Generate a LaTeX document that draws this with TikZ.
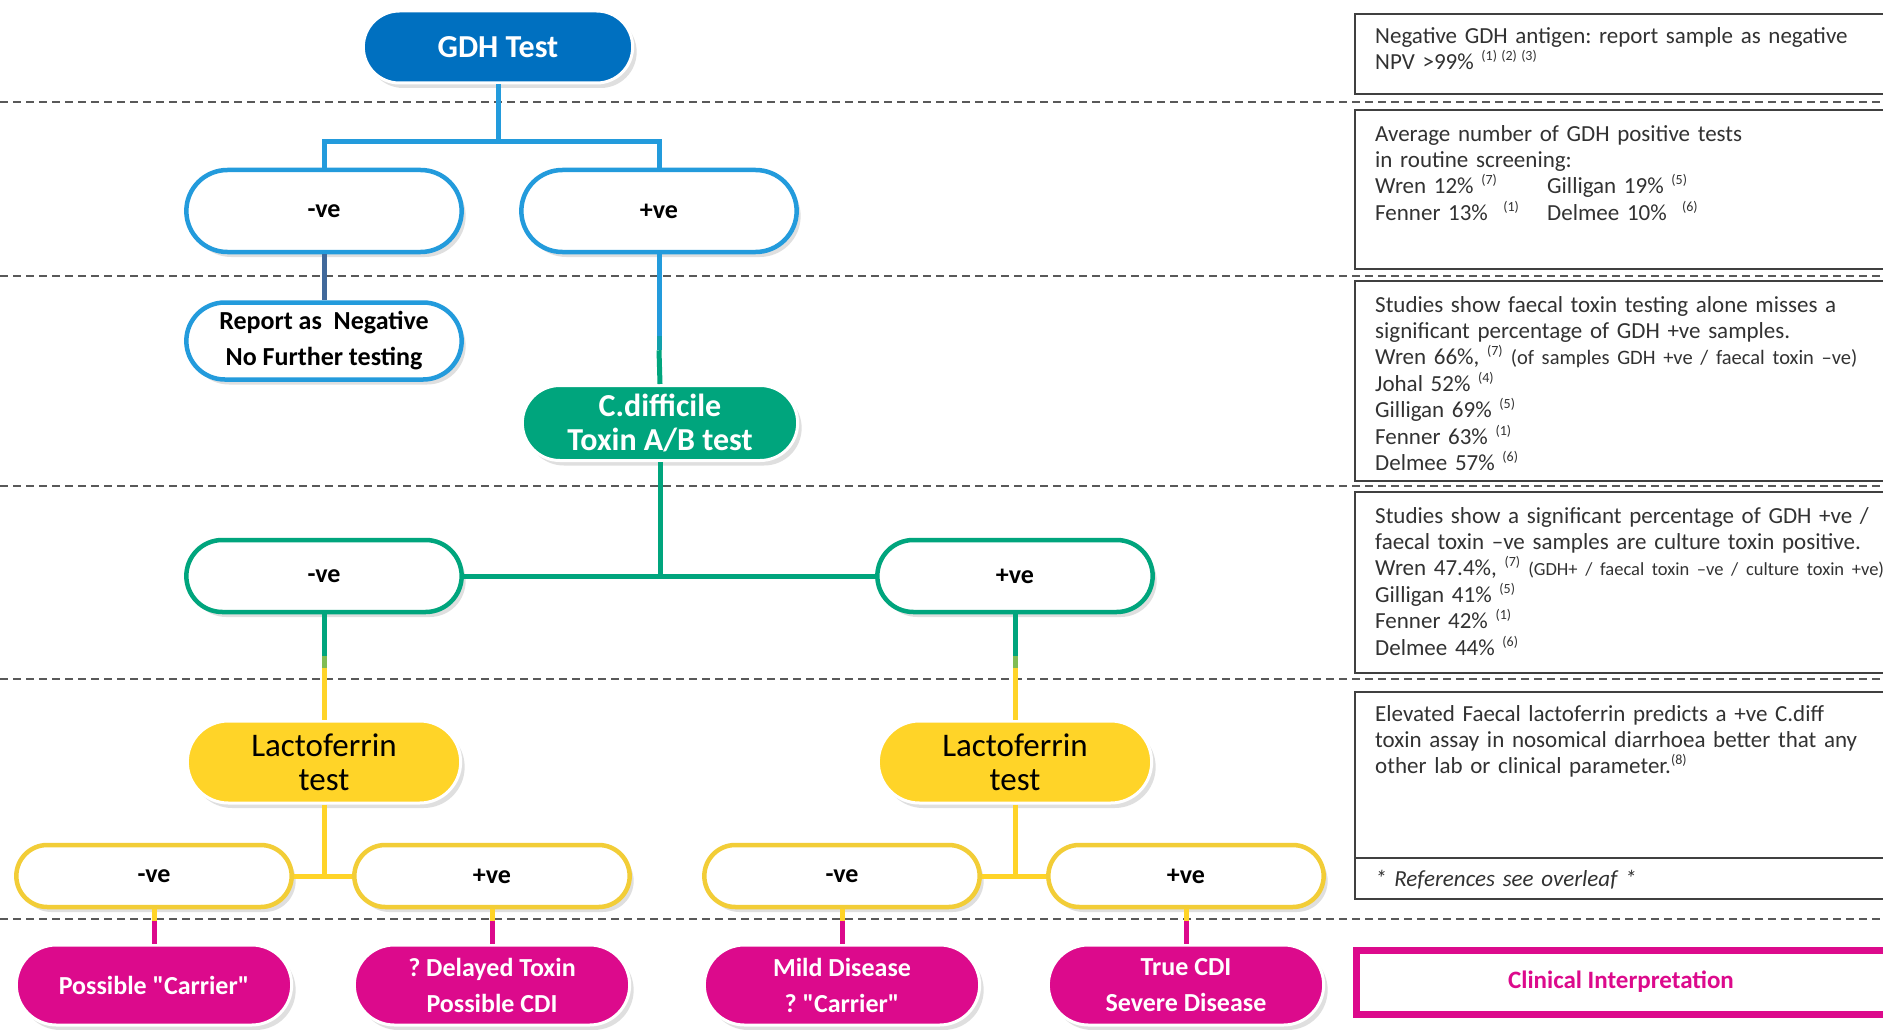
\documentclass[tikz,border=0pt]{standalone}
\usepackage{fontspec}
\setmainfont{Carlito}
\usepackage{tikz}
\usetikzlibrary{shapes.misc,shadows,positioning,calc}

\definecolor{gdhblue}{RGB}{0,112,192}
\definecolor{rimblue}{RGB}{35,155,220}
\definecolor{slate}{RGB}{65,105,155}
\definecolor{toxgreen}{RGB}{0,165,125}
\definecolor{lactoyellow}{RGB}{255,212,40}
\definecolor{rimyellow}{RGB}{242,205,55}
\definecolor{cdipink}{RGB}{220,10,140}
\definecolor{infogrey}{RGB}{50,50,50}

\newcommand{\refsup}[1]{\textsuperscript{\fontsize{14}{14}\selectfont(#1)}}
\frenchspacing

\begin{document}
\begin{tikzpicture}[
    x=1pt, y=-1pt,
    pill/.style={rounded rectangle, align=center, minimum width=282pt,
        drop shadow={shadow xshift=4pt, shadow yshift=-5pt, opacity=0.25}},
    fillpill/.style={pill, draw=white, line width=3pt, text=white, font=\fontsize{26}{36}\selectfont\bfseries},
    ring/.style={pill, fill=white, line width=4.5pt, font=\fontsize{26}{36}\selectfont\bfseries},
    link/.style={line width=5pt},
    sepline/.style={dash pattern=on 8pt off 5pt, line width=1.5pt, black!65},
    info/.style={anchor=north west, inner sep=0pt, text width=600pt, align=left,
        text=infogrey, font=\fontsize{23}{26.4}\selectfont},
    infobox/.style={draw=black!75, line width=2pt, fill=white}
]
\useasboundingbox (0,0) rectangle (1883,1030);
\clip (0,0) rectangle (1883,1030);
\fill[white] (0,0) rectangle (1883,1030);

% row separators
\foreach \y in {102,276,486,679,919}
    \draw[sepline] (0,\y) -- (1883,\y);

% notes on the right
\draw[infobox] (1355,14) rectangle (1900,94);
\node[info] (note1) at (1375,27) {Negative GDH antigen: report sample as negative\\
    NPV >99\% \refsup{1}\,\refsup{2}\,\refsup{3}};
\draw[infobox] (1355,110) rectangle (1900,269);
\node[info] (note2) at (1375,125) {Average number of GDH positive tests\\
    in routine screening:\\
    \makebox[172pt][l]{Wren 12\% \refsup{7}}Gilligan 19\% \refsup{5}\\
    \makebox[172pt][l]{Fenner 13\% \ \refsup{1}}Delmee 10\% \ \refsup{6}};
\draw[infobox] (1355,281) rectangle (1900,481);
\node[info] (note3) at (1375,296) {Studies show faecal toxin testing alone misses a\\
    significant percentage of GDH +ve samples.\\
    Wren 66\%, \refsup{7} {\fontsize{20.5}{26}\selectfont(of samples GDH +ve / faecal toxin –ve)}\\
    Johal 52\% \refsup{4}\\
    Gilligan 69\% \refsup{5}\\
    Fenner 63\% \refsup{1}\\
    Delmee 57\% \refsup{6}};
\draw[infobox] (1355,492) rectangle (1900,673);
\node[info] (note4) at (1375,507) {Studies show a significant percentage of GDH +ve /\\
    faecal toxin –ve samples are culture toxin positive.\\
    Wren 47.4\%, \refsup{7} {\fontsize{18.5}{26}\selectfont(GDH+ / faecal toxin –ve / culture toxin +ve)}\\
    Gilligan 41\% \refsup{5}\\
    Fenner 42\% \refsup{1}\\
    Delmee 44\% \refsup{6}};
\draw[infobox] (1355,692) rectangle (1900,899);
\draw[black!75, line width=2pt] (1355,858) -- (1900,858);
\node[info] (note5) at (1375,705) {Elevated Faecal lactoferrin predicts a +ve C.diff\\
    toxin assay in nosomical diarrhoea better that any\\
    other lab or clinical parameter.\refsup{8}};
\node[info] (overleaf) at (1375,870) {\itshape * References see overleaf *};
\node[draw=cdipink, line width=7pt, fill=white, minimum width=530pt, minimum height=64pt,
    text=cdipink, font=\fontsize{25}{30}\selectfont\bfseries] (clinical) at (1621,982) {Clinical Interpretation};

% GDH level
\node[fillpill, fill=gdhblue, minimum width=276pt, minimum height=72pt,
    font=\fontsize{32}{36}\selectfont\bfseries] (gdh) at (498,47) {GDH Test};
\node[ring, draw=rimblue, minimum height=82pt] (gdhneg) at (324,211) {-ve};
\node[ring, draw=rimblue, minimum height=82pt] (gdhpos) at (659,211) {+ve};
\node[ring, draw=rimblue, minimum height=77pt] (report) at (324,341) {Report as\ \ Negative\\No Further testing};

% toxin level
\node[fillpill, fill=toxgreen, minimum width=282pt, minimum height=75pt,
    font=\fontsize{32}{34}\selectfont\bfseries] (toxin) at (660,423) {C.difficile\\Toxin A/B test};
\node[ring, draw=toxgreen, minimum height=72pt] (toxneg) at (324,576) {-ve};
\node[ring, draw=toxgreen, minimum height=72pt] (toxpos) at (1015,576) {+ve};

% lactoferrin level
\node[fillpill, fill=lactoyellow, text=black, minimum width=280pt, minimum height=82pt,
    font=\fontsize{33}{34}\selectfont] (lactoneg) at (324,762) {Lactoferrin\\test};
\node[fillpill, fill=lactoyellow, text=black, minimum width=280pt, minimum height=82pt,
    font=\fontsize{33}{34}\selectfont] (lactopos) at (1015,762) {Lactoferrin\\test};
\node[ring, draw=rimyellow, minimum height=62pt] (lnegneg) at (154,876) {-ve};
\node[ring, draw=rimyellow, minimum height=62pt] (lnegpos) at (492,876) {+ve};
\node[ring, draw=rimyellow, minimum height=62pt] (lposneg) at (842,876) {-ve};
\node[ring, draw=rimyellow, minimum height=62pt] (lpospos) at (1186,876) {+ve};

% interpretation
\node[fillpill, fill=cdipink, minimum height=80pt] (carrier) at (154,985) {Possible \textquotedbl Carrier\textquotedbl};
\node[fillpill, fill=cdipink, minimum height=80pt] (delayed) at (492,985) {? Delayed Toxin\\Possible CDI};
\node[fillpill, fill=cdipink, minimum height=80pt] (mild) at (842,985) {Mild Disease\\? \textquotedbl Carrier\textquotedbl};
\node[fillpill, fill=cdipink, minimum height=80pt] (truecdi) at (1186,985) {True CDI\\Severe Disease};

% connectors
\coordinate (gdhsplit) at (498,142);
\draw[link, rimblue] (gdh.south) -- (gdhsplit);
\draw[link, rimblue] (gdhneg.north) |- (gdhsplit) -| (gdhpos.north);
\draw[link, slate] (gdhneg.south) -- (report.north);
\draw[link, rimblue] (gdhpos.south) -- ++(0,82) coordinate (bg1);
\draw[link, rimblue!50!toxgreen] (bg1) -- ++(0,14) coordinate (bg2);
\draw[link, toxgreen] (bg2) -- (toxin.north);

\draw[link, toxgreen] (toxin.south) -- (toxin.south |- toxneg.east);
\draw[link, toxgreen] (toxneg.east) -- (toxpos.west);
\draw[link, toxgreen] (toxneg.south) -- ++(0,42) coordinate (gy1);
\draw[link, toxgreen!50!lactoyellow] (gy1) -- ++(0,12) coordinate (gy2);
\draw[link, lactoyellow] (gy2) -- (lactoneg.north);
\draw[link, toxgreen] (toxpos.south) -- ++(0,42) coordinate (gy3);
\draw[link, toxgreen!50!lactoyellow] (gy3) -- ++(0,12) coordinate (gy4);
\draw[link, lactoyellow] (gy4) -- (lactopos.north);

\draw[link, lactoyellow] (lactoneg.south) -- (lactoneg.south |- lnegneg.east);
\draw[link, lactoyellow] (lnegneg.east) -- (lnegpos.west);
\draw[link, lactoyellow] (lactopos.south) -- (lactopos.south |- lposneg.east);
\draw[link, lactoyellow] (lposneg.east) -- (lpospos.west);

\draw[link, lactoyellow] (lnegneg.south) -- ++(0,12) coordinate (ym1);
\draw[link, cdipink] (ym1) -- (carrier.north);
\draw[link, lactoyellow] (lnegpos.south) -- ++(0,12) coordinate (ym2);
\draw[link, cdipink] (ym2) -- (delayed.north);
\draw[link, lactoyellow] (lposneg.south) -- ++(0,12) coordinate (ym3);
\draw[link, cdipink] (ym3) -- (mild.north);
\draw[link, lactoyellow] (lpospos.south) -- ++(0,12) coordinate (ym4);
\draw[link, cdipink] (ym4) -- (truecdi.north);

\end{tikzpicture}
\end{document}
